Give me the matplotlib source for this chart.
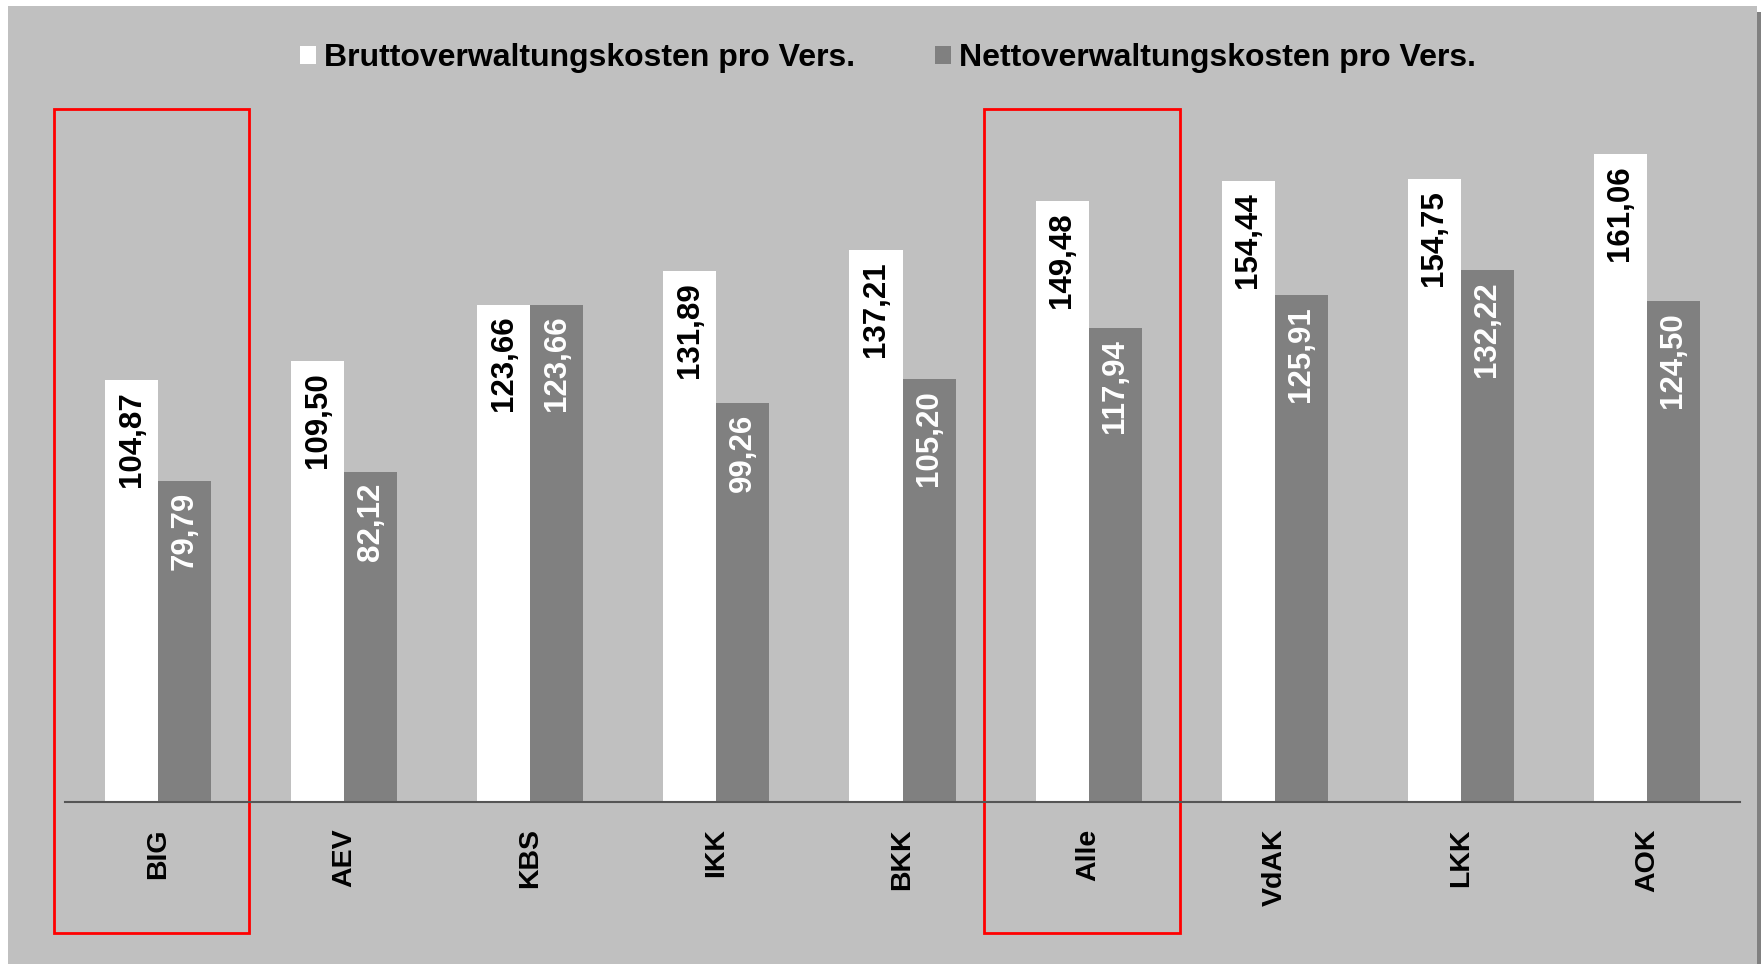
import matplotlib
matplotlib.use('Agg')
import numpy as np
import matplotlib.pyplot as plt
from matplotlib.patches import Rectangle, Patch
from matplotlib.transforms import blended_transform_factory

plt.rcParams['font.family'] = ['Liberation Sans', 'DejaVu Sans']

# data
categories = ['BIG', 'AEV', 'KBS', 'IKK', 'BKK', 'Alle', 'VdAK', 'LKK', 'AOK']
brutto = [104.87, 109.50, 123.66, 131.89, 137.21, 149.48, 154.44, 154.75, 161.06]
netto = [79.79, 82.12, 123.66, 99.26, 105.20, 117.94, 125.91, 132.22, 124.50]
series_names = ['Bruttoverwaltungskosten pro Vers.', 'Nettoverwaltungskosten pro Vers.']
highlighted = ['BIG', 'Alle']

W, H = 1761, 964
fig = plt.figure(figsize=(W / 100, H / 100), dpi=100)
fig.patch.set_facecolor('white')

# grey panel with a dark shadow on the right (behind the axes)
fig.patches.append(Rectangle((8 / W, 0), (1757 - 8) / W, (H - 6) / H,
                             transform=fig.transFigure, facecolor='#c0c0c0',
                             edgecolor='none', zorder=-5))
fig.patches.append(Rectangle((1757 / W, 0), 4 / W, (H - 12) / H,
                             transform=fig.transFigure, facecolor='#808080',
                             edgecolor='none', zorder=-5))

ax = fig.add_axes([65 / W, 1 - 802 / H, (1740 - 65) / W, (802 - 100) / H])
ax.set_facecolor('none')

x = np.arange(len(categories))
bw = 0.285
ax.bar(x - bw / 2, brutto, bw, color='white', label=series_names[0])
ax.bar(x + bw / 2, netto, bw, color='#808080', label=series_names[1])

def fmt(v):
    return f'{v:.2f}'.replace('.', ',')

for xi, v in zip(x, brutto):
    ax.annotate(fmt(v), xy=(xi - bw / 2, v), xytext=(0, -8), textcoords='offset points',
                rotation=90, ha='center', va='top', fontsize=22.5, fontweight='bold',
                color='black')
for xi, v in zip(x, netto):
    ax.annotate(fmt(v), xy=(xi + bw / 2, v), xytext=(0, -8), textcoords='offset points',
                rotation=90, ha='center', va='top', fontsize=22.5, fontweight='bold',
                color='white')

ax.set_xlim(-0.5, len(categories) - 0.5)
ax.set_ylim(0, 174.5)
ax.set_xticks(x)
ax.set_xticklabels(categories, rotation=90, fontsize=20.5, fontweight='bold')
ax.tick_params(axis='x', length=0, pad=19)
ax.set_yticks([])
for s in ['top', 'left', 'right']:
    ax.spines[s].set_visible(False)
ax.spines['bottom'].set_color('#555555')
ax.spines['bottom'].set_linewidth(1.5)

# red boxes around highlighted groups
tr = blended_transform_factory(ax.transData, fig.transFigure)
for name in highlighted:
    i = categories.index(name)
    ax.add_patch(Rectangle((i - 0.56, 31 / H), 1.05, (933 - 109) / H, transform=tr,
                           fill=False, edgecolor='red', linewidth=2, clip_on=False))

handles = [Patch(facecolor='white'), Patch(facecolor='#808080')]
fig.legend(handles, series_names, loc='center', bbox_to_anchor=(888 / W, 1 - 58 / H),
           ncol=2, frameon=False, prop={'size': 23, 'weight': 'bold'},
           handlelength=0.5, handleheight=0.5, handletextpad=0.25, columnspacing=2.5)

fig.savefig('out.png', dpi=100)
